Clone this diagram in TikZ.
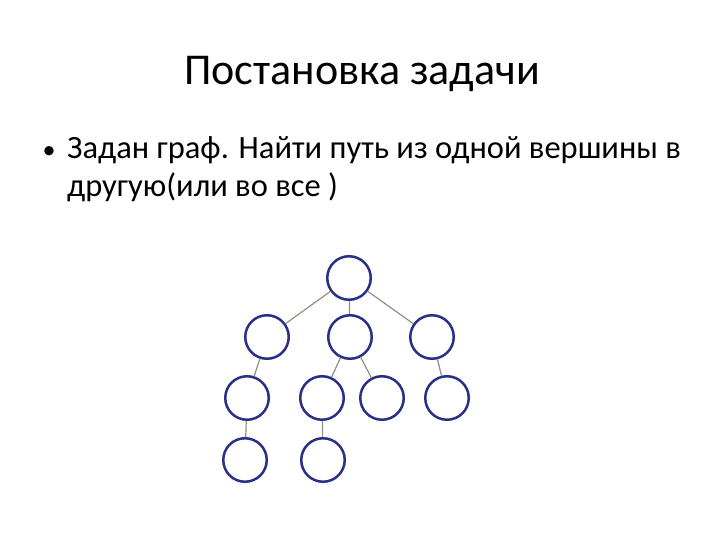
\documentclass[tikz,border=0pt]{standalone}
\usepackage{fontspec}
\setmainfont{Carlito}
\definecolor{vertexblue}{RGB}{40,48,135}
\definecolor{edgegray}{RGB}{150,142,125}
\tikzset{vertex/.style={circle, draw=vertexblue, line width=2.5pt, inner sep=0pt, minimum size=43.5pt},
         edge/.style={draw=edgegray, line width=1.2pt}}

\begin{document}
\begin{tikzpicture}[x=1pt,y=-1pt]
			\useasboundingbox (0,0) rectangle (720,540);
			\node[anchor=base, font={\fontsize{44}{52}\selectfont}] (title) at (362,85) {Постановка задачи};
			\node[anchor=base, font={\fontsize{26}{30}\selectfont}] (dot) at (49,159) {•};
			\node[anchor=north west, align=left, inner sep=0pt, font={\fontsize{32.5}{38.4}\selectfont}] (task) at (67,136) {Задан граф. Найти путь из одной вершины в\\ другую(или во все )};
			% вершины
			\node[vertex] (r) at (349,278) {};
			\node[vertex] (a) at (267,337) {};
			\node[vertex] (b) at (350,337) {};
			\node[vertex] (c) at (432,337) {};
			\node[vertex] (a1) at (247,398) {};
			\node[vertex] (b1) at (322,398) {};
			\node[vertex] (b2) at (382,398) {};
			\node[vertex] (c1) at (447,398) {};
			\node[vertex] (a2) at (245,460) {};
			\node[vertex] (b3) at (323,460) {};
			% рёбра
			\draw[edge] (r)--(a);
			\draw[edge] (r)--(b);
			\draw[edge] (r)--(c);
			\draw[edge] (a)--(a1);
			\draw[edge] (b)--(b1);
			\draw[edge] (b)--(b2);
			\draw[edge] (c)--(c1);
			\draw[edge] (a1)--(a2);
			\draw[edge] (b1)--(b3);
		\end{tikzpicture}
\end{document}
